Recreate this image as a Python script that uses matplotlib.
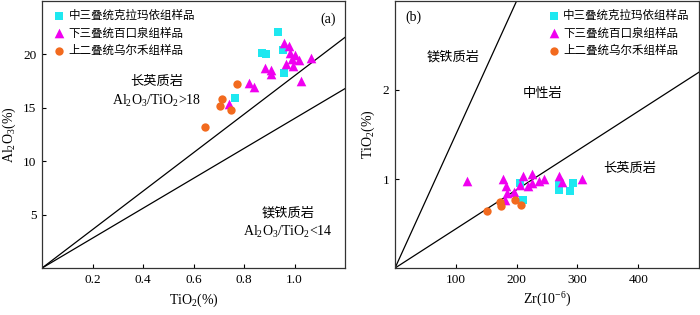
import matplotlib
matplotlib.use('Agg')
import matplotlib.pyplot as plt
import numpy as np

plt.rcParams['font.family'] = ['Liberation Serif', 'Noto Sans CJK SC']
plt.rcParams['mathtext.fontset'] = 'custom'
plt.rcParams['mathtext.rm'] = 'Liberation Serif'
plt.rcParams['mathtext.it'] = 'Liberation Serif'
plt.rcParams['axes.linewidth'] = 0.9

# 图例名称
labels = ['中三叠统克拉玛依组样品', '下三叠统百口泉组样品', '上二叠统乌尔禾组样品']
colors = ['#1EE8F0', '#F000F0', '#F26A1E']
markers = ['s', '^', 'o']
sizes = [30, 48, 36]

# (a) TiO2 - Al2O3
a_tio2_k = [0.933, 0.871, 0.886, 0.956, 0.960, 0.764]
a_al2o3_k = [22.1, 20.1, 20.05, 20.4, 18.3, 15.9]
a_tio2_b = [0.957, 0.976, 0.983, 1.000, 0.990, 1.016, 0.967, 0.994, 1.064,
            0.884, 0.907, 0.905, 1.025, 0.818, 0.839, 0.742]
a_al2o3_b = [21.1, 20.8, 20.1, 19.9, 19.6, 19.5, 19.1, 18.9, 19.7,
             18.7, 18.5, 18.2, 17.5, 17.3, 16.9, 15.4]
a_tio2_w = [0.774, 0.714, 0.705, 0.748, 0.646]
a_al2o3_w = [17.2, 15.8, 15.2, 14.8, 13.2]

# (b) Zr - TiO2
b_zr_k = [206, 211, 269, 269, 288, 293]
b_tio2_k = [0.96, 0.76, 0.93, 0.88, 0.86, 0.96]
b_zr_b = [119, 178, 182, 185, 181, 196, 210, 205, 219, 226, 226, 237, 245,
          270, 275, 308]
b_tio2_b = [0.98, 1.00, 0.92, 0.84, 0.76, 0.85, 1.03, 0.93, 0.92, 1.06, 0.96,
            0.98, 1.00, 1.03, 0.97, 1.00]
b_zr_w = [151, 173, 175, 197, 208]
b_tio2_w = [0.64, 0.74, 0.70, 0.77, 0.71]

# 判别线斜率
a_ratios = [18, 14]
b_slopes = [0.015, 0.0044]

fig = plt.figure(figsize=(7, 3.15), dpi=100)
ax1 = fig.add_axes([0.06, 0.149, 0.433, 0.848])
ax2 = fig.add_axes([0.5643, 0.149, 0.4343, 0.848])

# ---- (a)
xs = np.array([0, 1.2])
for r in a_ratios:
    ax1.plot(xs, xs * r, color='black', lw=0.9)
data_a = [(a_tio2_k, a_al2o3_k), (a_tio2_b, a_al2o3_b), (a_tio2_w, a_al2o3_w)]
for (x, y), c, m, s, lab in zip(data_a, colors, markers, sizes, labels):
    ax1.scatter(x, y, c=c, marker=m, s=s, label=lab, linewidths=0, zorder=3)
ax1.set_xlim(0, 1.2)
ax1.set_ylim(0, 25)
ax1.set_xticks([0.2, 0.4, 0.6, 0.8, 1.0])
ax1.set_xticklabels(['0.2', '0.4', '0.6', '0.8', '1.0'])
ax1.set_yticks([5, 10, 15, 20])
ax1.set_xlabel(r'TiO$_2$(%)', fontsize=10, labelpad=4)
ax1.set_ylabel(r'Al$_2$O$_3$(%)', fontsize=10, labelpad=4)
ax1.text(0.455, 17.4, '长英质岩', ha='center', va='center', fontsize=9.5)
ax1.text(0.455, 15.6, r'Al$_2$O$_3$/TiO$_2$>18', ha='center', va='center', fontsize=10)
ax1.text(0.975, 5.1, '镁铁质岩', ha='center', va='center', fontsize=9.5)
ax1.text(0.975, 3.4, r'Al$_2$O$_3$/TiO$_2$<14', ha='center', va='center', fontsize=10)
ax1.text(0.97, 0.955, '(a)', transform=ax1.transAxes, ha='right', va='top', fontsize=10)
ax1.legend(loc='upper left', bbox_to_anchor=(0.0, 1.0), frameon=False, fontsize=8.3,
           handletextpad=0.1, borderpad=0.3, labelspacing=0.45, handlelength=1.4)

# ---- (b)
zs = np.array([0, 500])
for k in b_slopes:
    ax2.plot(zs, zs * k, color='black', lw=0.9)
data_b = [(b_zr_k, b_tio2_k), (b_zr_b, b_tio2_b), (b_zr_w, b_tio2_w)]
for (x, y), c, m, s, lab in zip(data_b, colors, markers, sizes, labels):
    ax2.scatter(x, y, c=c, marker=m, s=s, label=lab, linewidths=0, zorder=3)
ax2.set_xlim(0, 500)
ax2.set_ylim(0, 3.0)
ax2.set_xticks([100, 200, 300, 400])
ax2.set_yticks([1, 2])
ax2.set_xlabel(r'Zr(10$^{-6}$)', fontsize=10, labelpad=4)
ax2.set_ylabel(r'TiO$_2$(%)', fontsize=10, labelpad=4)
ax2.text(95, 2.37, '镁铁质岩', ha='center', va='center', fontsize=9.5)
ax2.text(243, 1.96, '中性岩', ha='center', va='center', fontsize=9.5)
ax2.text(386, 1.12, '长英质岩', ha='center', va='center', fontsize=9.5)
ax2.text(0.035, 0.965, '(b)', transform=ax2.transAxes, ha='left', va='top', fontsize=10)
ax2.legend(loc='upper right', bbox_to_anchor=(1.0, 1.0), frameon=False, fontsize=8.3,
           handletextpad=0.1, borderpad=0.3, labelspacing=0.45, handlelength=1.4)

for ax in (ax1, ax2):
    ax.tick_params(direction='in', length=3, width=0.8, labelsize=9.5, pad=4)
    for sp in ax.spines.values():
        sp.set_color('#333333')

fig.savefig('out.png', dpi=100)
